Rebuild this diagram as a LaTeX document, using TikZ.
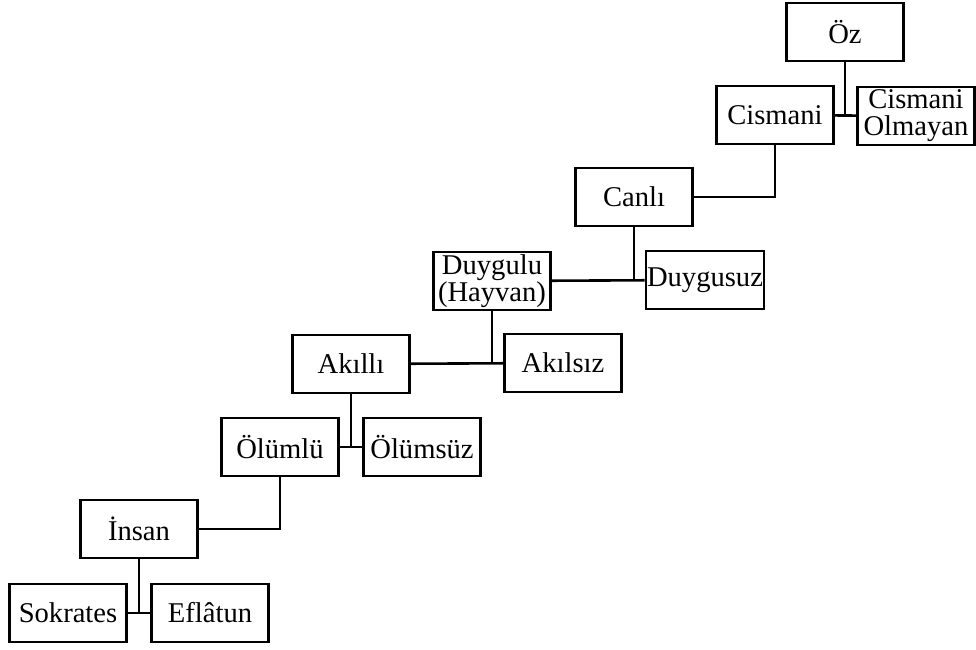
\documentclass[tikz,border=0pt]{standalone}
\usepackage{fontspec}
\setmainfont{Liberation Serif}
\usepackage{tikz}

\tikzset{kutu/.style={draw, line width=1.3pt, minimum width=58.5pt, minimum height=29pt,
    inner sep=0.5pt, align=center, font=\fontsize{14.3}{13.5}\selectfont}}

\begin{document}
\begin{tikzpicture}[x=0.5pt, y=-0.5pt, line width=1.3pt]
    \useasboundingbox (0,0) rectangle (976,649);
      \node[kutu] (Oz) at (845,32) {Öz};
      \node[kutu] (Cis) at (775,115) {Cismani};
      \node[kutu] (CisOl) at (916,116) {Cismani\\Olmayan};
      \node[kutu] (Canli) at (634,197) {Canlı};
      \node[kutu] (Duy) at (492,281) {Duygulu\\(Hayvan)};
      \node[kutu] (Duysuz) at (705,280) {Duygusuz};
      \node[kutu] (Akilli) at (351,364) {Akıllı};
      \node[kutu] (Akilsiz) at (563,363) {Akılsız};
      \node[kutu] (Olumlu) at (280,447) {Ölümlü};
      \node[kutu] (Olumsuz) at (422,447) {Ölümsüz};
      \node[kutu] (Insan) at (139,529) {İnsan};
      \node[kutu] (Sok) at (68,613) {Sokrates};
      \node[kutu] (Efl) at (210,613) {Eflâtun};
    % dallar
    \draw [-] (Cis) -- (CisOl);
    \draw [-] (Oz.south) -- (Oz.south |- CisOl.west);
    \draw [-] (Cis.south) |- (Canli.east);
    \draw [-] (Duy) -- (Duysuz);
    \draw [-] (Canli.south) -- (Canli.south |- Duysuz.west);
    \draw [-] (Akilli) -- (Akilsiz);
    \draw [-] (Duy.south) -- (Duy.south |- Akilsiz.west);
    \draw [-] (Olumlu) -- (Olumsuz);
    \draw [-] (Akilli.south) -- (Akilli.south |- Olumsuz.west);
    \draw [-] (Olumlu.south) |- (Insan.east);
    \draw [-] (Sok) -- (Efl);
    \draw [-] (Insan.south) -- (Insan.south |- Efl.west);
\end{tikzpicture}
\end{document}
